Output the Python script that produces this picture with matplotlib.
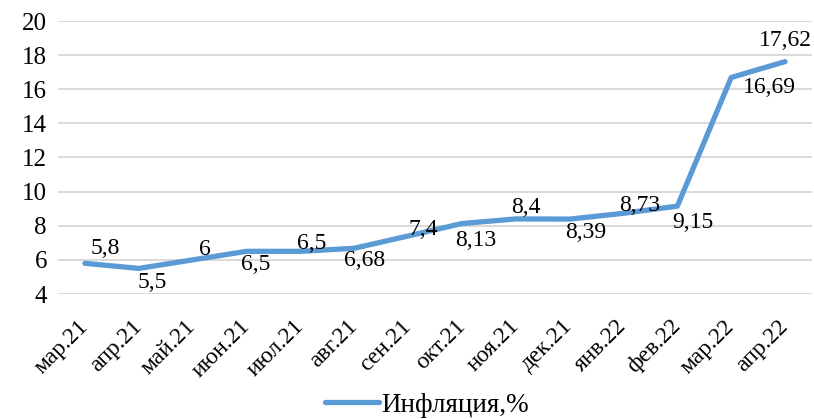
import matplotlib.pyplot as plt

plt.rcParams['font.family'] = ['Liberation Serif', 'DejaVu Serif']

months = ['мар.21', 'апр.21', 'май.21', 'июн.21', 'июл.21', 'авг.21', 'сен.21',
          'окт.21', 'ноя.21', 'дек.21', 'янв.22', 'фев.22', 'мар.22', 'апр.22']
inflation = [5.8, 5.5, 6, 6.5, 6.5, 6.68, 7.4, 8.13, 8.4, 8.39, 8.73, 9.15, 16.69, 17.62]
value_labels = ['5,8', '5,5', '6', '6,5', '6,5', '6,68', '7,4', '8,13', '8,4',
                '8,39', '8,73', '9,15', '16,69', '17,62']
# label offsets (pixels right, pixels up) as placed in the source
offsets = [(20, 15), (13, -14), (12, 10), (9, -13), (11, 8), (10, -12), (15, 6),
           (14, -17), (10, 11), (16, -13), (16, 8), (16, -16), (38, -10), (0, 21)]

fig = plt.figure(figsize=(8.14, 4.19), dpi=100)
ax = fig.add_axes([58 / 814, 1 - 294 / 419, 754 / 814, 273 / 419])

x = range(len(months))
line, = ax.plot(x, inflation, color='#5b9bd5', lw=3.8, solid_joinstyle='round',
                solid_capstyle='round', label='Инфляция,%', zorder=3)

for i, (v, t) in enumerate(zip(inflation, value_labels)):
    dx, dy = offsets[i]
    ax.annotate(t, (i, v), xytext=(dx * 0.72, dy * 0.72), textcoords='offset points',
                ha='center', va='center', fontsize=17, zorder=4)

ax.set_xlim(-0.5, len(months) - 0.5)
ax.set_ylim(4, 20)
ax.set_yticks(range(4, 21, 2))
ax.set_xticks(list(x))
ax.set_xticklabels(months, rotation=45, ha='right', va='center',
                   rotation_mode='anchor', fontsize=17)
ax.tick_params(axis='y', labelsize=18, length=0, pad=8)
ax.tick_params(axis='x', length=0, pad=21)
ax.grid(axis='y', color='#d9d9d9', lw=1.4)
ax.set_axisbelow(True)
for s in ax.spines.values():
    s.set_visible(False)

fig.legend(handles=[line], loc='center', bbox_to_anchor=(427 / 814, 1 - 405 / 419),
           frameon=False, fontsize=19.5, handlelength=2.0, handletextpad=0.1,
           borderaxespad=0)

fig.savefig('out.png', dpi=100)
